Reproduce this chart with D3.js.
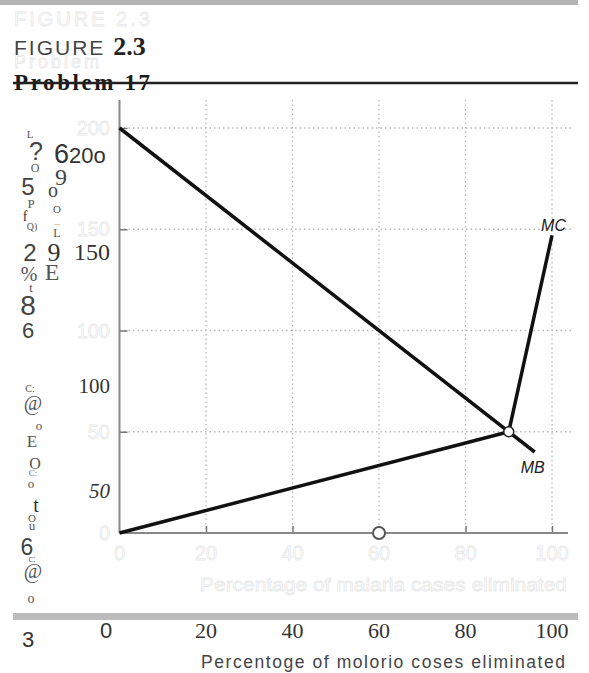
<!DOCTYPE html>
<html><head><meta charset="utf-8">
<script src="https://cdn.jsdelivr.net/npm/d3@7"></script>
<style>
html,body{margin:0;padding:0;background:#fff;}
svg{display:block;}
</style></head>
<body>
<script>
// ---- data ----
const xTicks = [0, 20, 40, 60, 80, 100];
const yTicks = [0, 50, 100, 150, 200];
const xTickLabels = ["0", "20", "40", "60", "80", "100"];
const mbPoints = [[0, 200], [96, 40]];
const mcPoints = [[0, 0], [90, 50], [100, 147]];
const equilibrium = [[90, 50]];
const axisMarker = [[60, 0]];
const curveLabels = ["MC", "MB"];
const xTitle = "Percentoge of molorio  coses eliminated";
const ghostTitle = "Percentage of malaria cases eliminated";

const W = 589, H = 673;
const svg = d3.select("body").append("svg").attr("width", W).attr("height", H);

const x = d3.scaleLinear().domain([0, 100]).range([119.5, 552]);
const y = d3.scaleLinear().domain([0, 200]).range([533, 128]);
const SERIF = "Liberation Serif, serif", SANS = "Liberation Sans, sans-serif";
const GHOST = "#e8e8e8";

// top gray bar
svg.append("rect").attr("x", 0).attr("y", 0).attr("width", 578).attr("height", 5).attr("fill", "#b4b4b4");

// ghost header
svg.append("text").attr("x", 14).attr("y", 26).attr("font-family", SANS)
  .attr("font-size", 20).attr("fill", "none").attr("stroke", GHOST).attr("stroke-width", 0.8)
  .attr("letter-spacing", 3).text("FIGURE 2.3");
svg.append("text").attr("x", 14).attr("y", 68).attr("font-family", SANS)
  .attr("font-size", 18).attr("fill", "none").attr("stroke", GHOST).attr("stroke-width", 0.8)
  .attr("letter-spacing", 3).text("Problem");

// header
const fig = svg.append("text").attr("x", 14).attr("y", 55);
fig.append("tspan").attr("font-family", SANS).attr("font-size", 21)
  .attr("fill", "#444").attr("letter-spacing", 2).text("FIGURE ");
fig.append("tspan").attr("font-family", SERIF).attr("font-weight", "bold")
  .attr("font-size", 26).attr("fill", "#222").text("2.3");

svg.append("text").attr("x", 14).attr("y", 90).attr("font-family", SERIF)
  .attr("font-weight", "bold").attr("font-size", 23).attr("fill", "#1a1a1a")
  .attr("textLength", 136).attr("lengthAdjust", "spacing").text("Problem 17");
svg.append("line").attr("x1", 13).attr("x2", 578).attr("y1", 83).attr("y2", 83)
  .attr("stroke", "#222").attr("stroke-width", 2.5);

// gridlines
const g = svg.append("g");
g.selectAll(".vg").data(xTicks.filter(d => d > 0)).join("line")
  .attr("x1", d => x(d)).attr("x2", d => x(d)).attr("y1", 100).attr("y2", y(0))
  .attr("stroke", "#b8b8b8").attr("stroke-width", 1.3).attr("stroke-dasharray", "1.5,3");
g.selectAll(".hg").data(yTicks.filter(d => d > 0)).join("line")
  .attr("x1", x(0)).attr("x2", 572).attr("y1", d => y(d)).attr("y2", d => y(d))
  .attr("stroke", "#b8b8b8").attr("stroke-width", 1.3).attr("stroke-dasharray", "1.5,3");

// axes
const xAxis = d3.axisTop(x).tickValues(xTicks.filter(d => d > 0)).tickSize(7).tickFormat("");
const xa = svg.append("g").attr("transform", `translate(0,${y(0)})`).call(xAxis);
xa.select(".domain").remove();
xa.selectAll("line").attr("stroke", "#777").attr("stroke-width", 1.5);
svg.append("line").attr("x1", x(0)).attr("x2", 568).attr("y1", y(0)).attr("y2", y(0))
  .attr("stroke", "#888").attr("stroke-width", 2);

const yAxis = d3.axisRight(y).tickValues(yTicks.filter(d => d > 0)).tickSize(8).tickFormat("");
const ya = svg.append("g").attr("transform", `translate(${x(0)},0)`).call(yAxis);
ya.select(".domain").remove();
ya.selectAll("line").attr("stroke", "#777").attr("stroke-width", 1.5);
svg.append("line").attr("x1", x(0)).attr("x2", x(0)).attr("y1", 100).attr("y2", y(0))
  .attr("stroke", "#888").attr("stroke-width", 2);

// ghost tick labels
svg.append("g").selectAll("text").data(yTicks).join("text")
  .attr("x", 110).attr("y", d => y(d) + 7).attr("text-anchor", "end")
  .attr("font-family", SANS).attr("font-size", 20)
  .attr("fill", "none").attr("stroke", GHOST).attr("stroke-width", 0.8)
  .text(d => d);
svg.append("g").selectAll("text").data(xTicks).join("text")
  .attr("x", d => x(d)).attr("y", 560).attr("text-anchor", "middle")
  .attr("font-family", SANS).attr("font-size", 20)
  .attr("fill", "none").attr("stroke", GHOST).attr("stroke-width", 0.8)
  .text(d => d);
svg.append("text").attr("x", 200).attr("y", 591).attr("font-family", SANS)
  .attr("font-size", 19).attr("fill", "none").attr("stroke", GHOST).attr("stroke-width", 0.8)
  .attr("textLength", 367).attr("lengthAdjust", "spacingAndGlyphs").text(ghostTitle);

// curves
const line = d3.line().x(d => x(d[0])).y(d => y(d[1]));
svg.append("path").datum(mbPoints).attr("d", line).attr("fill", "none")
  .attr("stroke", "#111").attr("stroke-width", 3.5);
svg.append("path").datum(mcPoints).attr("d", line).attr("fill", "none")
  .attr("stroke", "#111").attr("stroke-width", 3.5).attr("stroke-linejoin", "round");

svg.selectAll(".eq").data(equilibrium).join("circle")
  .attr("cx", d => x(d[0])).attr("cy", d => y(d[1])).attr("r", 5)
  .attr("fill", "#fff").attr("stroke", "#222").attr("stroke-width", 1.5);
svg.selectAll(".am").data(axisMarker).join("circle")
  .attr("cx", d => x(d[0])).attr("cy", d => y(d[1])).attr("r", 6)
  .attr("fill", "#fff").attr("stroke", "#555").attr("stroke-width", 2);

// curve labels
svg.append("text").attr("x", x(mcPoints[2][0]) + 14).attr("y", y(mcPoints[2][1]) - 4)
  .attr("text-anchor", "end").attr("font-family", SANS)
  .attr("font-style", "italic").attr("font-size", 16).attr("fill", "#222").text(curveLabels[0]);
svg.append("text").attr("x", x(mbPoints[1][0]) - 14).attr("y", y(mbPoints[1][1]) + 21)
  .attr("font-family", SANS)
  .attr("font-style", "italic").attr("font-size", 16).attr("fill", "#222").text(curveLabels[1]);

// OCR overlay y labels
const yl = svg.append("g").attr("fill", "#333");
const t6 = yl.append("text").attr("x", 54).attr("y", 163);
t6.append("tspan").attr("font-family", SANS).attr("font-size", 27).text("6");
t6.append("tspan").attr("font-family", SANS).attr("font-size", 22).text("20o");
yl.append("text").attr("x", 110).attr("y", 260).attr("text-anchor", "end")
  .attr("font-family", SERIF).attr("font-size", 24).text(yTicks[3]);
yl.append("text").attr("x", 110).attr("y", 393).attr("text-anchor", "end")
  .attr("font-family", SERIF).attr("font-size", 21).text(yTicks[2]);
yl.append("text").attr("x", 110).attr("y", 498).attr("text-anchor", "end")
  .attr("font-family", SERIF).attr("font-style", "italic").attr("font-size", 21).text(yTicks[1]);

// OCR garble column
const glyphs = [
  ["L", 30, 138, 11, SERIF, "#555"], ["?", 36, 160, 25, SANS, "#444"], ["O", 35, 172, 12, SERIF, "#555"],
  ["5", 28, 195, 24, SANS, "#444"], ["9", 61, 185, 24, SERIF, "#444"], ["o", 53, 197, 20, SERIF, "#444"],
  ["P", 31, 208, 13, SERIF, "#555"], ["O", 57, 213, 11, SERIF, "#555"], ["f", 25, 221, 14, SERIF, "#333"],
  ["Q)", 32, 230, 10, SERIF, "#555"], ["...", 57, 225, 8, SERIF, "#666"], ["L", 57, 237, 12, SERIF, "#555"],
  ["2", 30, 261, 24, SANS, "#444"], ["9", 54, 261, 26, SERIF, "#333"], ["%", 29, 281, 20, SERIF, "#555"],
  ["E", 52, 280, 24, SERIF, "#555"], ["t", 31, 292, 12, SERIF, "#444"], ["8", 28, 315, 28, SANS, "#444"],
  ["6", 28, 338, 22, SANS, "#444"], ["C:", 30, 392, 10, SERIF, "#555"], ["@", 33, 410, 20, SERIF, "#555"],
  ["o", 39, 430, 13, SERIF, "#555"], ["E", 32, 447, 17, SERIF, "#555"], ["O", 35, 469, 16, SERIF, "#555"],
  ["C:", 33, 476, 9, SERIF, "#666"], ["o", 31, 488, 13, SERIF, "#555"], ["t", 36, 512, 20, SERIF, "#333"],
  ["O", 32, 522, 11, SERIF, "#555"], ["u", 32, 530, 13, SERIF, "#555"], ["6", 27, 555, 23, SANS, "#444"],
  ["c:", 32, 562, 10, SERIF, "#666"], ["@", 33, 578, 20, SERIF, "#555"], ["o", 31, 603, 14, SERIF, "#555"]
];
svg.append("g").selectAll("text").data(glyphs).join("text")
  .attr("x", d => d[1]).attr("y", d => d[2]).attr("text-anchor", "middle")
  .attr("font-size", d => d[3]).attr("font-family", d => d[4]).attr("fill", d => d[5])
  .text(d => d[0]);

// bottom bar and bottom labels
svg.append("rect").attr("x", 13).attr("y", 613).attr("width", 565).attr("height", 7).attr("fill", "#bcbcbc");
svg.append("text").attr("x", 28).attr("y", 647).attr("text-anchor", "middle")
  .attr("font-family", SANS).attr("font-size", 22).attr("fill", "#333").text("3");
svg.append("g").selectAll("text").data(xTickLabels).join("text")
  .attr("x", (d, i) => i === 0 ? 106 : x(xTicks[i])).attr("y", 638).attr("text-anchor", "middle")
  .attr("font-family", (d, i) => i === 0 ? SANS : SERIF).attr("font-size", 22).attr("fill", "#333")
  .text(d => d);
svg.append("text").attr("x", 201).attr("y", 668).attr("font-family", SANS).attr("font-size", 17.5)
  .attr("fill", "#444").attr("textLength", 364).attr("lengthAdjust", "spacing").text(xTitle);
</script>
</body></html>
